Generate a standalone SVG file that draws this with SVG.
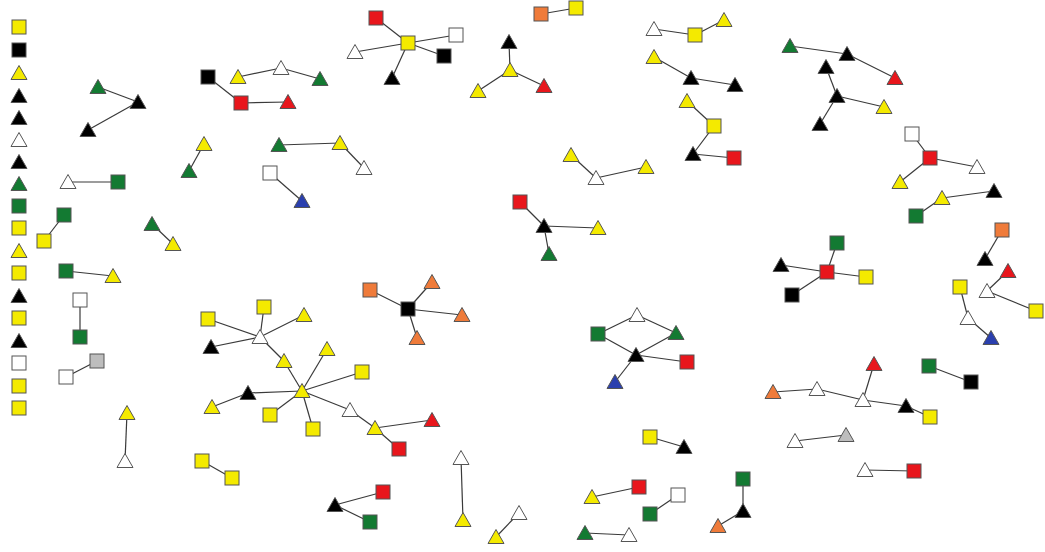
<svg xmlns="http://www.w3.org/2000/svg" xmlns:xlink="http://www.w3.org/1999/xlink" width="1045" height="552" viewBox="0 0 1045 552">
<style>
.e line{stroke:#3a3a3a;stroke-width:1.2}
use{stroke:#555;stroke-width:1}
.y{fill:#f4ea00}.k{fill:#000}.r{fill:#e8161c}.g{fill:#137a32}.w{fill:#fff}.o{fill:#ef7b3a}.b{fill:#2a3fae}.s{fill:#bdbdbd}
</style>
<defs>
<path id="t" d="M0,-7.5 L8,6.5 L-8,6.5 Z"/>
<rect id="q" x="-7" y="-7" width="14" height="14"/>
</defs>
<rect width="1045" height="552" fill="#fff"/>
<g id="connectors" class="e">
<line x1="98" y1="87" x2="138" y2="102"/><line x1="138" y1="102" x2="88" y2="130"/>
<line x1="208" y1="77" x2="241" y2="103"/><line x1="241" y1="103" x2="288" y2="102"/>
<line x1="238" y1="77" x2="281" y2="68"/><line x1="281" y1="68" x2="320" y2="79"/>
<line x1="204" y1="144" x2="189" y2="171"/><line x1="68" y1="182" x2="118" y2="182"/>
<line x1="408" y1="43" x2="376" y2="18"/><line x1="408" y1="43" x2="456" y2="35"/><line x1="408" y1="43" x2="444" y2="56"/><line x1="408" y1="43" x2="355" y2="52"/><line x1="408" y1="43" x2="392" y2="78"/>
<line x1="509" y1="42" x2="510" y2="70"/><line x1="510" y1="70" x2="478" y2="91"/><line x1="510" y1="70" x2="544" y2="86"/>
<line x1="279" y1="145" x2="340" y2="143"/><line x1="340" y1="143" x2="364" y2="168"/>
<line x1="270" y1="173" x2="302" y2="201"/>
<line x1="541" y1="14" x2="576" y2="8"/>
<line x1="654" y1="29" x2="695" y2="35"/><line x1="695" y1="35" x2="724" y2="20"/>
<line x1="654" y1="57" x2="691" y2="78"/><line x1="691" y1="78" x2="735" y2="85"/>
<line x1="687" y1="101" x2="714" y2="126"/><line x1="714" y1="126" x2="693" y2="154"/><line x1="693" y1="154" x2="734" y2="158"/>
<line x1="571" y1="155" x2="596" y2="178"/><line x1="596" y1="178" x2="646" y2="167"/>
<line x1="790" y1="46" x2="847" y2="54"/><line x1="847" y1="54" x2="895" y2="78"/>
<line x1="826" y1="67" x2="837" y2="96"/><line x1="837" y1="96" x2="884" y2="107"/><line x1="837" y1="96" x2="820" y2="124"/>
<line x1="912" y1="134" x2="930" y2="158"/><line x1="930" y1="158" x2="977" y2="167"/><line x1="930" y1="158" x2="900" y2="182"/>
<line x1="916" y1="216" x2="942" y2="198"/><line x1="942" y1="198" x2="994" y2="191"/>
<line x1="827" y1="272" x2="837" y2="243"/><line x1="827" y1="272" x2="866" y2="277"/><line x1="827" y1="272" x2="792" y2="295"/><line x1="827" y1="272" x2="781" y2="265"/>
<line x1="1002" y1="230" x2="985" y2="259"/>
<line x1="1008" y1="271" x2="987" y2="291"/><line x1="987" y1="291" x2="1036" y2="311"/>
<line x1="960" y1="287" x2="968" y2="318"/><line x1="968" y1="318" x2="991" y2="338"/>
<line x1="929" y1="366" x2="971" y2="382"/>
<line x1="773" y1="392" x2="817" y2="389"/><line x1="817" y1="389" x2="863" y2="400"/><line x1="874" y1="364" x2="863" y2="400"/><line x1="863" y1="400" x2="906" y2="406"/><line x1="906" y1="406" x2="930" y2="417"/>
<line x1="795" y1="441" x2="846" y2="435"/><line x1="865" y1="470" x2="914" y2="471"/>
<line x1="650" y1="437" x2="684" y2="447"/><line x1="592" y1="497" x2="639" y2="487"/><line x1="650" y1="514" x2="678" y2="495"/><line x1="585" y1="533" x2="629" y2="535"/>
<line x1="743" y1="479" x2="743" y2="511"/><line x1="743" y1="511" x2="718" y2="526"/>
<line x1="598" y1="334" x2="637" y2="315"/><line x1="637" y1="315" x2="676" y2="333"/><line x1="598" y1="334" x2="636" y2="355"/><line x1="676" y1="333" x2="636" y2="355"/><line x1="636" y1="355" x2="687" y2="362"/><line x1="636" y1="355" x2="615" y2="382"/>
<line x1="520" y1="202" x2="544" y2="226"/><line x1="544" y1="226" x2="598" y2="228"/><line x1="544" y1="226" x2="549" y2="254"/>
<line x1="408" y1="309" x2="370" y2="290"/><line x1="408" y1="309" x2="432" y2="282"/><line x1="408" y1="309" x2="462" y2="315"/><line x1="408" y1="309" x2="417" y2="338"/>
<line x1="260" y1="337" x2="264" y2="307"/><line x1="260" y1="337" x2="304" y2="315"/><line x1="260" y1="337" x2="208" y2="319"/><line x1="260" y1="337" x2="211" y2="347"/><line x1="260" y1="337" x2="284" y2="361"/>
<line x1="284" y1="361" x2="302" y2="391"/><line x1="302" y1="391" x2="327" y2="349"/><line x1="302" y1="391" x2="362" y2="372"/><line x1="302" y1="391" x2="270" y2="415"/><line x1="302" y1="391" x2="313" y2="429"/><line x1="302" y1="391" x2="350" y2="410"/><line x1="302" y1="391" x2="248" y2="393"/>
<line x1="350" y1="410" x2="375" y2="428"/><line x1="375" y1="428" x2="432" y2="420"/><line x1="375" y1="428" x2="399" y2="449"/>
<line x1="248" y1="393" x2="212" y2="407"/>
<line x1="335" y1="505" x2="383" y2="492"/><line x1="335" y1="505" x2="370" y2="522"/>
<line x1="461" y1="458" x2="463" y2="520"/><line x1="496" y1="537" x2="519" y2="513"/>
<line x1="66" y1="377" x2="97" y2="361"/><line x1="127" y1="413" x2="125" y2="461"/><line x1="202" y1="461" x2="232" y2="478"/>
<line x1="64" y1="215" x2="44" y2="241"/><line x1="152" y1="224" x2="173" y2="244"/><line x1="66" y1="271" x2="113" y2="276"/><line x1="80" y1="300" x2="80" y2="337"/>
</g>
<g id="legend">
<g id="L1"><use href="#q" x="19" y="27" class="y"/></g>
<g id="L2"><use href="#q" x="19" y="50" class="k"/></g>
<g id="L3"><use href="#t" x="19" y="73" class="y"/></g>
<g id="L4"><use href="#t" x="19" y="96" class="k"/></g>
<g id="L5"><use href="#t" x="19" y="118" class="k"/></g>
<g id="L6"><use href="#t" x="19" y="140" class="w"/></g>
<g id="L7"><use href="#t" x="19" y="162" class="k"/></g>
<g id="L8"><use href="#t" x="19" y="184" class="g"/></g>
<g id="L9"><use href="#q" x="19" y="206" class="g"/></g>
<g id="L10"><use href="#q" x="19" y="228" class="y"/></g>
<g id="L11"><use href="#t" x="19" y="251" class="y"/></g>
<g id="L12"><use href="#q" x="19" y="273" class="y"/></g>
<g id="L13"><use href="#t" x="19" y="296" class="k"/></g>
<g id="L14"><use href="#q" x="19" y="318" class="y"/></g>
<g id="L15"><use href="#t" x="19" y="341" class="k"/></g>
<g id="L16"><use href="#q" x="19" y="363" class="w"/></g>
<g id="L17"><use href="#q" x="19" y="386" class="y"/></g>
<g id="L18"><use href="#q" x="19" y="408" class="y"/></g>
</g>
<g id="nodes">
<g id="n1"><use href="#t" x="98" y="87" class="g"/></g>
<g id="n2"><use href="#t" x="138" y="102" class="k"/></g>
<g id="n3"><use href="#t" x="88" y="130" class="k"/></g>
<g id="n4"><use href="#q" x="208" y="77" class="k"/></g>
<g id="n5"><use href="#q" x="241" y="103" class="r"/></g>
<g id="n6"><use href="#t" x="238" y="77" class="y"/></g>
<g id="n7"><use href="#t" x="281" y="68" class="w"/></g>
<g id="n8"><use href="#t" x="320" y="79" class="g"/></g>
<g id="n9"><use href="#t" x="288" y="102" class="r"/></g>
<g id="n10"><use href="#t" x="204" y="144" class="y"/></g>
<g id="n11"><use href="#t" x="189" y="171" class="g"/></g>
<g id="n12"><use href="#t" x="68" y="182" class="w"/></g>
<g id="n13"><use href="#q" x="118" y="182" class="g"/></g>
<g id="n14"><use href="#q" x="376" y="18" class="r"/></g>
<g id="n15"><use href="#q" x="408" y="43" class="y"/></g>
<g id="n16"><use href="#q" x="456" y="35" class="w"/></g>
<g id="n17"><use href="#q" x="444" y="56" class="k"/></g>
<g id="n18"><use href="#t" x="355" y="52" class="w"/></g>
<g id="n19"><use href="#t" x="392" y="78" class="k"/></g>
<g id="n20"><use href="#t" x="509" y="42" class="k"/></g>
<g id="n21"><use href="#t" x="510" y="70" class="y"/></g>
<g id="n22"><use href="#t" x="478" y="91" class="y"/></g>
<g id="n23"><use href="#t" x="544" y="86" class="r"/></g>
<g id="n24"><use href="#t" x="279" y="145" class="g"/></g>
<g id="n25"><use href="#t" x="340" y="143" class="y"/></g>
<g id="n26"><use href="#t" x="364" y="168" class="w"/></g>
<g id="n27"><use href="#q" x="270" y="173" class="w"/></g>
<g id="n28"><use href="#t" x="302" y="201" class="b"/></g>
<g id="n29"><use href="#q" x="541" y="14" class="o"/></g>
<g id="n30"><use href="#q" x="576" y="8" class="y"/></g>
<g id="n31"><use href="#t" x="654" y="29" class="w"/></g>
<g id="n32"><use href="#q" x="695" y="35" class="y"/></g>
<g id="n33"><use href="#t" x="724" y="20" class="y"/></g>
<g id="n34"><use href="#t" x="654" y="57" class="y"/></g>
<g id="n35"><use href="#t" x="691" y="78" class="k"/></g>
<g id="n36"><use href="#t" x="735" y="85" class="k"/></g>
<g id="n37"><use href="#t" x="687" y="101" class="y"/></g>
<g id="n38"><use href="#q" x="714" y="126" class="y"/></g>
<g id="n39"><use href="#t" x="693" y="154" class="k"/></g>
<g id="n40"><use href="#q" x="734" y="158" class="r"/></g>
<g id="n41"><use href="#t" x="571" y="155" class="y"/></g>
<g id="n42"><use href="#t" x="596" y="178" class="w"/></g>
<g id="n43"><use href="#t" x="646" y="167" class="y"/></g>
<g id="n44"><use href="#t" x="790" y="46" class="g"/></g>
<g id="n45"><use href="#t" x="847" y="54" class="k"/></g>
<g id="n46"><use href="#t" x="895" y="78" class="r"/></g>
<g id="n47"><use href="#t" x="826" y="67" class="k"/></g>
<g id="n48"><use href="#t" x="837" y="96" class="k"/></g>
<g id="n49"><use href="#t" x="884" y="107" class="y"/></g>
<g id="n50"><use href="#t" x="820" y="124" class="k"/></g>
<g id="n51"><use href="#q" x="912" y="134" class="w"/></g>
<g id="n52"><use href="#q" x="930" y="158" class="r"/></g>
<g id="n53"><use href="#t" x="977" y="167" class="w"/></g>
<g id="n54"><use href="#t" x="900" y="182" class="y"/></g>
<g id="n55"><use href="#t" x="942" y="198" class="y"/></g>
<g id="n56"><use href="#t" x="994" y="191" class="k"/></g>
<g id="n57"><use href="#q" x="916" y="216" class="g"/></g>
<g id="n58"><use href="#q" x="837" y="243" class="g"/></g>
<g id="n59"><use href="#q" x="827" y="272" class="r"/></g>
<g id="n60"><use href="#q" x="866" y="277" class="y"/></g>
<g id="n61"><use href="#q" x="792" y="295" class="k"/></g>
<g id="n62"><use href="#t" x="781" y="265" class="k"/></g>
<g id="n63"><use href="#q" x="1002" y="230" class="o"/></g>
<g id="n64"><use href="#t" x="985" y="259" class="k"/></g>
<g id="n65"><use href="#t" x="1008" y="271" class="r"/></g>
<g id="n66"><use href="#t" x="987" y="291" class="w"/></g>
<g id="n67"><use href="#q" x="1036" y="311" class="y"/></g>
<g id="n68"><use href="#q" x="960" y="287" class="y"/></g>
<g id="n69"><use href="#t" x="968" y="318" class="w"/></g>
<g id="n70"><use href="#t" x="991" y="338" class="b"/></g>
<g id="n71"><use href="#t" x="874" y="364" class="r"/></g>
<g id="n72"><use href="#q" x="929" y="366" class="g"/></g>
<g id="n73"><use href="#q" x="971" y="382" class="k"/></g>
<g id="n74"><use href="#t" x="773" y="392" class="o"/></g>
<g id="n75"><use href="#t" x="817" y="389" class="w"/></g>
<g id="n76"><use href="#t" x="863" y="400" class="w"/></g>
<g id="n77"><use href="#t" x="906" y="406" class="k"/></g>
<g id="n78"><use href="#q" x="930" y="417" class="y"/></g>
<g id="n79"><use href="#t" x="795" y="441" class="w"/></g>
<g id="n80"><use href="#t" x="846" y="435" class="s"/></g>
<g id="n81"><use href="#t" x="865" y="470" class="w"/></g>
<g id="n82"><use href="#q" x="914" y="471" class="r"/></g>
<g id="n83"><use href="#t" x="615" y="382" class="b"/></g>
<g id="n84"><use href="#q" x="650" y="437" class="y"/></g>
<g id="n85"><use href="#t" x="684" y="447" class="k"/></g>
<g id="n86"><use href="#q" x="639" y="487" class="r"/></g>
<g id="n87"><use href="#t" x="592" y="497" class="y"/></g>
<g id="n88"><use href="#q" x="678" y="495" class="w"/></g>
<g id="n89"><use href="#q" x="650" y="514" class="g"/></g>
<g id="n90"><use href="#t" x="585" y="533" class="g"/></g>
<g id="n91"><use href="#t" x="629" y="535" class="w"/></g>
<g id="n92"><use href="#q" x="743" y="479" class="g"/></g>
<g id="n93"><use href="#t" x="743" y="511" class="k"/></g>
<g id="n94"><use href="#t" x="718" y="526" class="o"/></g>
<g id="n95"><use href="#q" x="598" y="334" class="g"/></g>
<g id="n96"><use href="#t" x="637" y="315" class="w"/></g>
<g id="n97"><use href="#t" x="676" y="333" class="g"/></g>
<g id="n98"><use href="#t" x="636" y="355" class="k"/></g>
<g id="n99"><use href="#q" x="687" y="362" class="r"/></g>
<g id="n100"><use href="#q" x="520" y="202" class="r"/></g>
<g id="n101"><use href="#t" x="544" y="226" class="k"/></g>
<g id="n102"><use href="#t" x="598" y="228" class="y"/></g>
<g id="n103"><use href="#t" x="549" y="254" class="g"/></g>
<g id="n104"><use href="#q" x="370" y="290" class="o"/></g>
<g id="n105"><use href="#q" x="408" y="309" class="k"/></g>
<g id="n106"><use href="#t" x="432" y="282" class="o"/></g>
<g id="n107"><use href="#t" x="462" y="315" class="o"/></g>
<g id="n108"><use href="#t" x="417" y="338" class="o"/></g>
<g id="n109"><use href="#q" x="264" y="307" class="y"/></g>
<g id="n110"><use href="#t" x="260" y="337" class="w"/></g>
<g id="n111"><use href="#t" x="304" y="315" class="y"/></g>
<g id="n112"><use href="#q" x="208" y="319" class="y"/></g>
<g id="n113"><use href="#t" x="211" y="347" class="k"/></g>
<g id="n114"><use href="#t" x="284" y="361" class="y"/></g>
<g id="n115"><use href="#t" x="327" y="349" class="y"/></g>
<g id="n116"><use href="#t" x="302" y="391" class="y"/></g>
<g id="n117"><use href="#q" x="362" y="372" class="y"/></g>
<g id="n118"><use href="#q" x="270" y="415" class="y"/></g>
<g id="n119"><use href="#q" x="313" y="429" class="y"/></g>
<g id="n120"><use href="#t" x="350" y="410" class="w"/></g>
<g id="n121"><use href="#t" x="375" y="428" class="y"/></g>
<g id="n122"><use href="#t" x="432" y="420" class="r"/></g>
<g id="n123"><use href="#q" x="399" y="449" class="r"/></g>
<g id="n124"><use href="#t" x="248" y="393" class="k"/></g>
<g id="n125"><use href="#t" x="212" y="407" class="y"/></g>
<g id="n126"><use href="#t" x="335" y="505" class="k"/></g>
<g id="n127"><use href="#q" x="383" y="492" class="r"/></g>
<g id="n128"><use href="#q" x="370" y="522" class="g"/></g>
<g id="n129"><use href="#t" x="461" y="458" class="w"/></g>
<g id="n130"><use href="#t" x="463" y="520" class="y"/></g>
<g id="n131"><use href="#t" x="496" y="537" class="y"/></g>
<g id="n132"><use href="#t" x="519" y="513" class="w"/></g>
<g id="n133"><use href="#q" x="66" y="377" class="w"/></g>
<g id="n134"><use href="#q" x="97" y="361" class="s"/></g>
<g id="n135"><use href="#t" x="127" y="413" class="y"/></g>
<g id="n136"><use href="#t" x="125" y="461" class="w"/></g>
<g id="n137"><use href="#q" x="202" y="461" class="y"/></g>
<g id="n138"><use href="#q" x="232" y="478" class="y"/></g>
<g id="n139"><use href="#q" x="64" y="215" class="g"/></g>
<g id="n140"><use href="#q" x="44" y="241" class="y"/></g>
<g id="n141"><use href="#t" x="152" y="224" class="g"/></g>
<g id="n142"><use href="#t" x="173" y="244" class="y"/></g>
<g id="n143"><use href="#q" x="66" y="271" class="g"/></g>
<g id="n144"><use href="#t" x="113" y="276" class="y"/></g>
<g id="n145"><use href="#q" x="80" y="300" class="w"/></g>
<g id="n146"><use href="#q" x="80" y="337" class="g"/></g>
</g>
</svg>
